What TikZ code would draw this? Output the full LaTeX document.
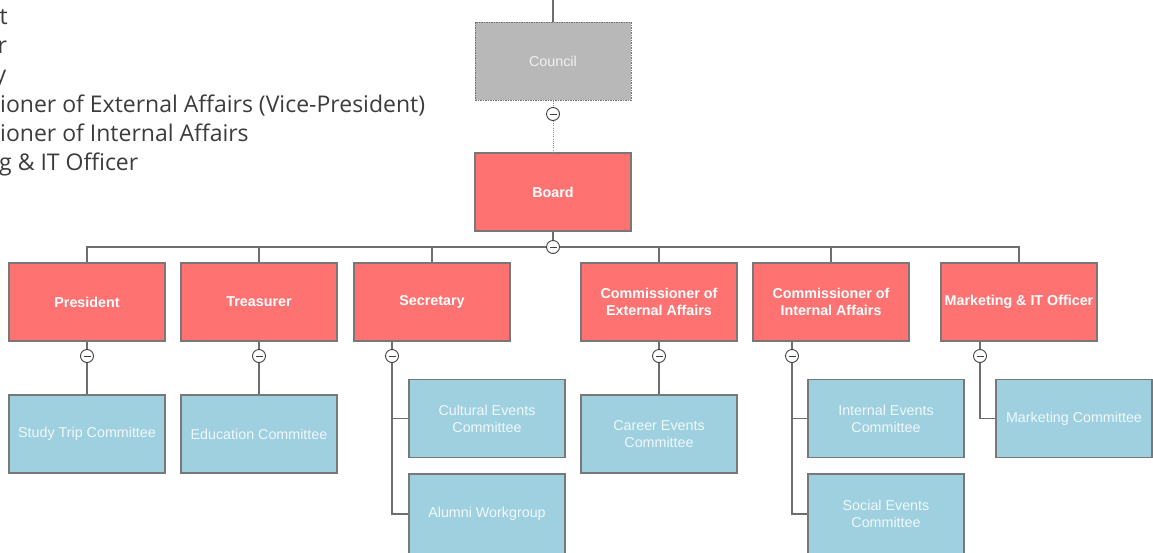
\documentclass[tikz,border=0pt]{standalone}
\usepackage{fontspec}
\setmainfont{Liberation Sans}
\newfontfamily\osans{Open Sans}
\definecolor{redbox}{RGB}{255,114,114}
\definecolor{bluebox}{RGB}{158,208,223}
\definecolor{graybox}{RGB}{184,184,184}
\definecolor{edge}{RGB}{120,120,120}
\definecolor{wire}{RGB}{110,110,110}
\definecolor{bluetext}{RGB}{240,248,251}
\definecolor{fragtext}{RGB}{60,60,60}
\begin{document}
\begin{tikzpicture}[x=1pt,y=-1pt,
 box/.style={draw=edge,line width=1.3pt,minimum width=156pt,minimum height=78pt,inner sep=0pt,align=center,font=\fontsize{14.3}{17}\selectfont},
 rolebox/.style={box,fill=redbox,text=white,font=\fontsize{14.3}{17}\selectfont\bfseries},
 teambox/.style={box,fill=bluebox,text=bluetext},
 councilbox/.style={box,fill=graybox,text=white!90!gray,draw=black!55,dash pattern=on 1.5pt off 1pt,line width=1pt},
 wirel/.style={draw=wire,line width=1.2pt},
 dotwire/.style={draw=wire!80,line width=1pt,dash pattern=on 1pt off 1.2pt},
 collapse/.style={circle,draw=black!75,fill=white,line width=0.9pt,minimum size=13pt,inner sep=0pt,
   path picture={\draw[line width=1pt] ([xshift=-3.5pt]path picture bounding box.center) -- ([xshift=3.5pt]path picture bounding box.center);}},
 frag/.style={anchor=base west,inner sep=0pt,text=fragtext,font=\osans\fontsize{23}{28}\selectfont}
]
\clip (0,0) rectangle (1153,552);
\fill[white] (0,0) rectangle (1153,552);

% cut-off legend text
\node[frag] (f1) at (-0.5,24.5) {t};
\node[frag] (f2) at (-2.5,53.5) {r};
\node[frag] (f3) at (-5.5,82.5) {y};
\node[frag] (f4) at (0,112.5) {ioner of External Affairs (Vice-President)};
\node[frag] (f5) at (0,141.5) {ioner of Internal Affairs};
\node[frag] (f6) at (-1,170.5) {g \& IT Officer};

% boxes
\node[councilbox] (council) at (553,61) {Council};
\node[rolebox] (board) at (553,192) {Board};
\node[rolebox] (pres) at (87,302) {President};
\node[rolebox] (treas) at (259,302) {Treasurer};
\node[rolebox] (sec) at (432,302) {Secretary};
\node[rolebox] (cext) at (659,302) {Commissioner of\\External Affairs};
\node[rolebox] (cint) at (831,302) {Commissioner of\\Internal Affairs};
\node[rolebox] (mkt) at (1019,302) {Marketing \& IT Officer};

\node[teambox] (study) at (87,434) {Study Trip Committee};
\node[teambox] (edu) at (259,434) {Education Committee};
\node[teambox] (cult) at (487,418.5) {Cultural Events\\Committee};
\node[teambox,minimum height=80pt] (alum) at (487,514) {Alumni Workgroup};
\node[teambox] (career) at (659,434) {Career Events\\Committee};
\node[teambox] (ievt) at (886,418.5) {Internal Events\\Committee};
\node[teambox,minimum height=80pt] (sevt) at (886,514) {Social Events\\Committee};
\node[teambox] (mcom) at (1074,418.5) {Marketing Committee};

% collapse markers
\node[collapse] (c0) at (553,114) {};
\node[collapse] (cb) at (553,247) {};
\node[collapse] (cp) at (87,356) {};
\node[collapse] (ct) at (259,356) {};
\node[collapse] (cs) at (392,356) {};
\node[collapse] (cce) at (659,356) {};
\node[collapse] (cci) at (792,356) {};
\node[collapse] (cm) at (980,356) {};

\coordinate (top) at (553,0);

% connectors
\draw[wirel] (top) -- (council);
\draw[dotwire] (council) -- (c0);
\draw[dotwire] (c0) -- (board);
\draw[wirel] (board) -- (cb);
\draw[wirel] (cb) -| (pres);
\draw[wirel] (cb) -| (treas);
\draw[wirel] (cb) -| (sec);
\draw[wirel] (cb) -| (cext);
\draw[wirel] (cb) -| (cint);
\draw[wirel] (cb) -| (mkt);

\draw[wirel] (pres) -- (cp);
\draw[wirel] (treas) -- (ct);
\draw[wirel] (cs |- sec.south) -- (cs);
\draw[wirel] (cext) -- (cce);
\draw[wirel] (cci |- cint.south) -- (cci);
\draw[wirel] (cm |- mkt.south) -- (cm);

\draw[wirel] (cp) -- (study);
\draw[wirel] (ct) -- (edu);
\draw[wirel] (cs) |- (cult);
\draw[wirel] (cs) |- (alum);
\draw[wirel] (cce) -- (career);
\draw[wirel] (cci) |- (ievt);
\draw[wirel] (cci) |- (sevt);
\draw[wirel] (cm) |- (mcom);
\end{tikzpicture}
\end{document}
